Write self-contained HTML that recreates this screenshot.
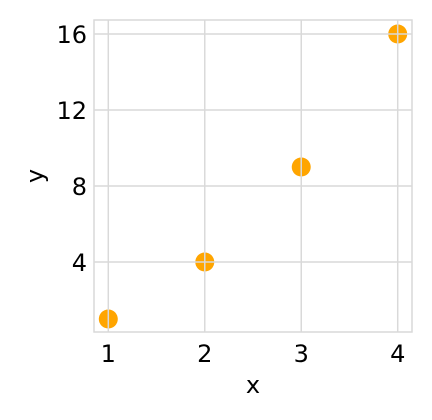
<!DOCTYPE html>
<html><head><meta charset="utf-8"><style>
html,body{margin:0;padding:0;background:#fff;width:432px;height:420px;overflow:hidden}
svg text{font-family:"DejaVu Sans","Liberation Sans",sans-serif;fill:#000}
</style></head><body>
<svg id="chart" width="432" height="420" viewBox="0 0 432 420" xmlns="http://www.w3.org/2000/svg"></svg>
<script>
const xValues = [1, 2, 3, 4];
const yValues = [1, 4, 9, 16];
const xTicks = [1, 2, 3, 4];
const yTicks = [4, 8, 12, 16];
const L = 94, R = 412, T = 20, B = 332;
function sx(v){ return 108.3 + (v - 1) * 96.47; }
function sy(v){ return 262 - (v - 4) * 19.0; }
const svg = document.getElementById('chart');
const NS = 'http://www.w3.org/2000/svg';
function mk(tag, attrs){ const e = document.createElementNS(NS, tag); for (const k in attrs) e.setAttribute(k, attrs[k]); svg.appendChild(e); return e; }
xValues.forEach((x, i) => {
  const c = mk('circle', {cx: sx(x), cy: sy(yValues[i]), r: 9.5, fill: '#ffa500'});
  
  
});
xTicks.forEach(t => {
  const l = mk('line', {x1: sx(t), x2: sx(t), y1: T, y2: B, stroke: '#d9d9d9', 'stroke-width': 1.5});
  
  
  const tx = mk('text', {x: sx(t), y: 362, 'font-size': 24, 'text-anchor': 'middle'});
  tx.textContent = t;
  
  
});
yTicks.forEach(t => {
  const l = mk('line', {x1: L, x2: R, y1: sy(t), y2: sy(t), stroke: '#d9d9d9', 'stroke-width': 1.5});
  
  
  const tx = mk('text', {x: 87, y: sy(t) + 9, 'font-size': 24, 'text-anchor': 'end'});
  tx.textContent = t;
  
  
});
const frame = mk('rect', {x: L, y: T, width: R - L, height: B - T, fill: 'none', stroke: '#d9d9d9', 'stroke-width': 1.5});


const xl = mk('text', {x: 253, y: 393, 'font-size': 24, 'text-anchor': 'middle'});
xl.textContent = 'x';


const yl = mk('text', {x: 0, y: 0, 'font-size': 24, 'text-anchor': 'middle', transform: 'translate(43,176) rotate(-90)'});
yl.textContent = 'y';


</script>
</body></html>
